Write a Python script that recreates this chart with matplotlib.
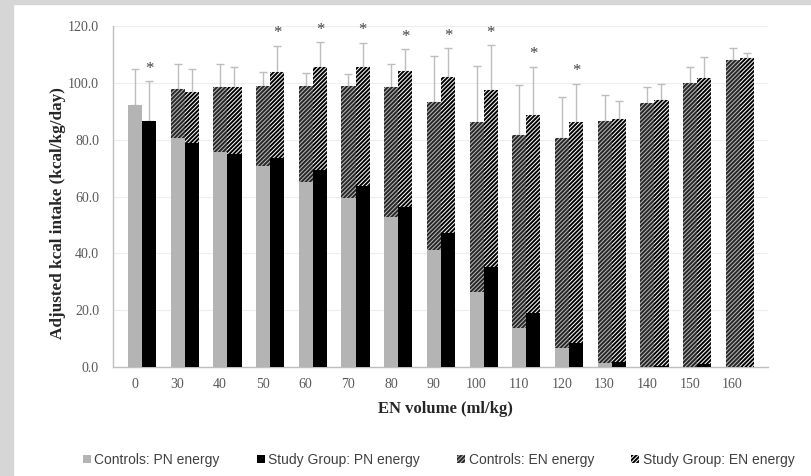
import matplotlib
matplotlib.use("Agg")
import matplotlib.pyplot as plt
from matplotlib.patches import Patch, Rectangle
import numpy as np

# data
en_volume = ["0", "30", "40", "50", "60", "70", "80", "90", "100", "110", "120", "130", "140", "150", "160"]
ctrl_pn = [92.2, 80.5, 75.8, 70.7, 65.2, 59.3, 52.7, 41.2, 26.3, 13.8, 6.6, 1.5, 0.0, 0.0, 0.0]
study_pn = [86.7, 78.9, 74.8, 73.7, 69.3, 63.7, 56.2, 47.3, 35.3, 19.1, 8.3, 1.8, 0.5, 1.0, 0.0]
ctrl_en = [0.0, 17.2, 22.6, 28.2, 33.8, 39.7, 45.7, 52.2, 60.0, 67.8, 74.1, 85.2, 92.8, 99.8, 108.0]
study_en = [0.0, 18.0, 23.8, 30.2, 36.1, 42.0, 48.0, 54.9, 62.2, 69.6, 78.0, 85.4, 93.4, 100.8, 108.8]
ctrl_sd = [12.7, 8.8, 8.1, 5.0, 4.6, 4.1, 8.2, 16.1, 19.7, 17.6, 14.4, 9.0, 5.8, 5.9, 4.1]
study_sd = [13.9, 8.0, 7.1, 9.2, 8.8, 8.4, 7.6, 9.9, 15.8, 17.0, 13.3, 6.5, 5.7, 7.4, 1.6]
significant = [True, False, False, True, True, True, True, True, True, True, True, False, False, False, False]

serif = "Liberation Serif"
sans = "Liberation Sans"
plt.rcParams["hatch.linewidth"] = 1.4

fig = plt.figure(figsize=(8.12, 4.76), dpi=100, facecolor="white")
# grey frame on the left and top
fig.patches.append(Rectangle((0, 0), 13 / 812, 1, transform=fig.transFigure, color="#d6d6d6", zorder=0))
fig.patches.append(Rectangle((0, 1 - 4 / 476), 1, 4 / 476, transform=fig.transFigure, color="#d6d6d6", zorder=0))

ax = fig.add_axes([113 / 812, 1 - 367 / 476, 655 / 812, 341 / 476])

x = np.arange(len(en_volume))
w = 0.33
ctrl_pn = np.array(ctrl_pn)
study_pn = np.array(study_pn)
ctrl_en = np.array(ctrl_en)
study_en = np.array(study_en)

ctrl_hatch = dict(facecolor="#bcbcbc", edgecolor="#262626", hatch="////////", linewidth=0)
study_hatch = dict(facecolor="white", edgecolor="black", hatch="////////", linewidth=0)

ax.bar(x - w / 2, ctrl_pn, w, color="#b4b4b4", zorder=3)
ax.bar(x + w / 2, study_pn, w, color="black", zorder=3)
ax.bar(x - w / 2, ctrl_en, w, bottom=ctrl_pn, zorder=3, **ctrl_hatch)
ax.bar(x + w / 2, study_en, w, bottom=study_pn, zorder=3, **study_hatch)

ctrl_tot = ctrl_pn + ctrl_en
study_tot = study_pn + study_en
zeros = np.zeros(len(x))
ax.errorbar(x - w / 2, ctrl_tot, yerr=[zeros, ctrl_sd], fmt="none", ecolor="#bdbdbd",
            elinewidth=1, capsize=3, zorder=2)
ax.errorbar(x + w / 2, study_tot, yerr=[zeros, study_sd], fmt="none", ecolor="#bdbdbd",
            elinewidth=1, capsize=3, zorder=2)

for i in range(len(x)):
    if significant[i]:
        ax.annotate("*", (x[i] + w / 2, study_tot[i] + study_sd[i]), xytext=(0, 9),
                    textcoords="offset points", ha="center", va="center",
                    fontsize=12, color="#404040", family=serif)

ax.set_xlim(-0.68, 14.66)
ax.set_ylim(0, 120)
ax.set_yticks(np.arange(0, 121, 20))
ax.set_yticklabels([f"{v:.1f}" for v in np.arange(0, 121, 20)])
ax.set_xticks(x - 0.17)
ax.set_xticklabels(en_volume)
ax.tick_params(length=0, labelsize=10, labelcolor="#595959")
ax.tick_params(axis="y", pad=10)
ax.tick_params(axis="x", pad=8)
for lab in ax.get_xticklabels() + ax.get_yticklabels():
    lab.set_family(serif)

ax.grid(axis="y", color="#eeeeee", linewidth=0.8, zorder=0)
ax.set_axisbelow(True)
for s in ["top", "right"]:
    ax.spines[s].set_visible(False)
for s in ["left", "bottom"]:
    ax.spines[s].set_color("#bfbfbf")
    ax.spines[s].set_linewidth(1)

ax.set_xlabel("EN volume (ml/kg)", family=serif, fontsize=12, fontweight="bold", color="#262626")
ax.set_ylabel("Adjusted kcal intake (kcal/kg/day)", family=serif, fontsize=12.3, fontweight="bold", color="#262626")
ax.xaxis.set_label_coords(0.507, -0.1)
ax.yaxis.set_label_coords(-0.072, 0.45)

handles = [
    Patch(facecolor="#b4b4b4", label="Controls: PN energy"),
    Patch(facecolor="black", label="Study Group: PN energy"),
    Patch(label="Controls: EN energy", **ctrl_hatch),
    Patch(label="Study Group: EN energy", **study_hatch),
]
fig.legend(handles=handles, loc="center", bbox_to_anchor=(0.54, 0.034), ncol=4, frameon=False,
           handlelength=0.6, handleheight=0.6, handletextpad=0.25, columnspacing=2.65,
           prop={"family": sans, "size": 10}, labelcolor="#404040")

fig.savefig("out.png", dpi=100, facecolor="white")
